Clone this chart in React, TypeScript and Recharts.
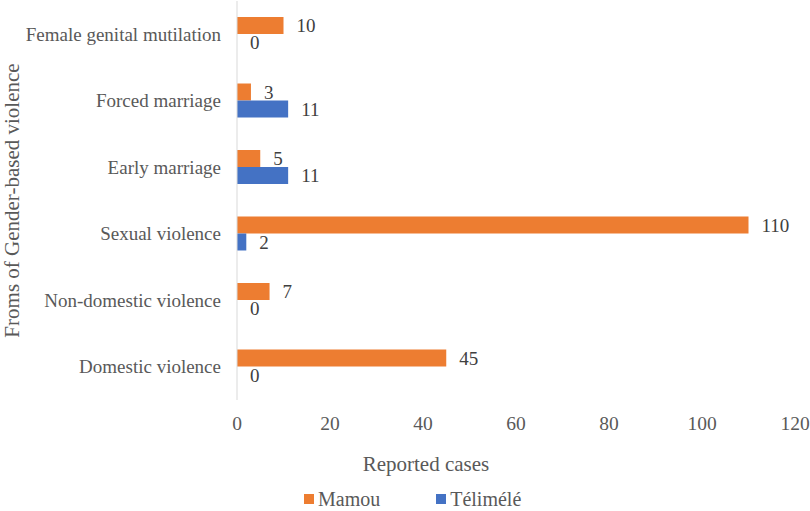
import { BarChart, Bar, XAxis, YAxis, Legend, LabelList, Label } from "recharts";

const categories = [
  "Female genital mutilation",
  "Forced marriage",
  "Early marriage",
  "Sexual violence",
  "Non-domestic violence",
  "Domestic violence",
];
const mamou = [10, 3, 5, 110, 7, 45];
const telimele = [0, 11, 11, 2, 0, 0];
const xTicks = [0, 20, 40, 60, 80, 100, 120];

const FONT = "'Liberation Serif', 'Times New Roman', serif";
const TEXT = "#595959";
const ORANGE = "#ED7D31";
const BLUE = "#4472C4";

const data = categories.map((name, i) => ({
  name,
  mamou: mamou[i],
  telimele: telimele[i],
}));

// value labels drawn by hand, offset to the right of each bar end
const valueLabel = (props: any) => {
  const { x, y, width, height, value } = props;
  return (
    <text
      x={Number(x) + Number(width) + 13}
      y={Number(y) + Number(height) / 2}
      dy="0.355em"
      fill="#404040"
      fontSize={19}
      fontFamily={FONT}
    >
      {value}
    </text>
  );
};

function LegendContent() {
  const items = [
    { label: "Mamou", color: ORANGE },
    { label: "Télimélé", color: BLUE },
  ];
  return (
    <div style={{ display: "flex", fontFamily: FONT, fontSize: 20, color: TEXT, lineHeight: "16px" }}>
      {items.map((it, i) => (
        <div key={it.label} style={{ display: "flex", alignItems: "center", height: 16, marginLeft: i ? 56 : 0 }}>
          <span style={{ width: 10, height: 10, background: it.color, marginRight: 4 }} />
          <span>{it.label}</span>
        </div>
      ))}
    </div>
  );
}

export default function App() {
  return (
    <div style={{ position: "absolute", left: 0, top: 0, width: 810, height: 511, overflow: "hidden", background: "#fff" }}>
      <BarChart
        width={810}
        height={511}
        data={data}
        layout="vertical"
        margin={{ top: 1, right: 15, left: 0, bottom: 0 }}
        barGap={0}
      >
        <XAxis
          type="number"
          domain={[0, 120]}
          ticks={xTicks}
          axisLine={false}
          tickLine={false}
          tickMargin={10}
          height={111}
          tick={{ fill: TEXT, fontSize: 19.5, fontFamily: FONT }}
        >
          <Label
            content={({ viewBox }: any) => (
              <text
                x={viewBox.x + viewBox.width / 2 - 90}
                y={viewBox.y + 71}
                textAnchor="middle"
                fill={TEXT}
                fontSize={21}
                fontFamily={FONT}
              >
                Reported cases
              </text>
            )}
          />
        </XAxis>
        <YAxis
          type="category"
          dataKey="name"
          width={237}
          axisLine={{ stroke: "#D9D9D9" }}
          tickLine={false}
          tickMargin={10}
          tick={{ fill: TEXT, fontSize: 19, fontFamily: FONT }}
        >
          <Label
            content={({ viewBox }: any) => {
              const x = viewBox.x + 19;
              const y = viewBox.y + viewBox.height / 2;
              return (
                <text
                  x={x}
                  y={y}
                  transform={`rotate(-90, ${x}, ${y})`}
                  textAnchor="middle"
                  fill={TEXT}
                  fontSize={21}
                  fontFamily={FONT}
                >
                  Froms of Gender-based violence
                </text>
              );
            }}
          />
        </YAxis>
        <Legend
          layout="vertical"
          align="center"
          verticalAlign="middle"
          content={<LegendContent />}
          wrapperStyle={{ left: 304, top: 491, width: "auto", height: 16 }}
        />
        <Bar dataKey="mamou" name="Mamou" fill={ORANGE} barSize={17} minPointSize={0.01} isAnimationActive={false}>
          <LabelList dataKey="mamou" content={valueLabel} />
        </Bar>
        <Bar dataKey="telimele" name="Télimélé" fill={BLUE} barSize={17} minPointSize={0.01} isAnimationActive={false}>
          <LabelList dataKey="telimele" content={valueLabel} />
        </Bar>
      </BarChart>
    </div>
  );
}
